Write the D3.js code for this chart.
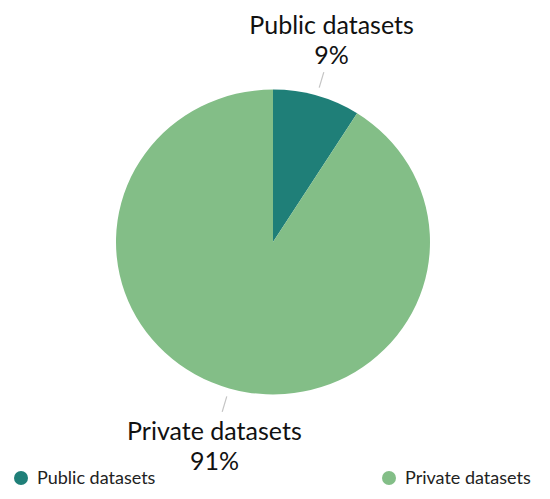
<!DOCTYPE html>
<html>
<head>
<meta charset="utf-8">
<script src="https://cdn.jsdelivr.net/npm/d3@7"></script>
<style>
  body { margin: 0; background: #fff; }
  text { font-family: Lato, "Noto Sans", sans-serif; }
</style>
</head>
<body>
<script>
var categories = ["Public datasets", "Private datasets"];
var values = [9, 91];
var colors = ["#1f7f78", "#83be87"];

var w = 550, h = 499;
var cx = 273, cy = 242;
var r = 157;
var squash = 0.971; // picture is slightly flattened vertically

var svg = d3.select("body").append("svg").attr("width", w).attr("height", h);

var data = categories.map(function(c, i) { return {name: c, value: values[i], color: colors[i]}; });

var pie = d3.pie().sort(null).value(function(d) { return d.value; });
var arcs = pie(data);
var arc = d3.arc().innerRadius(0).outerRadius(r);

var g = svg.append("g")
  .attr("transform", "translate(" + cx + "," + cy + ") scale(1," + squash + ")");

g.selectAll("path.slice")
  .data(arcs)
  .enter()
  .append("path")
  .attr("class", "slice")
  .attr("d", arc)
  .attr("fill", function(d) { return d.data.color; });

function pt(a, rad) {
  return [cx + Math.sin(a) * rad, cy - Math.cos(a) * rad * squash];
}

// leader lines + labels
arcs.forEach(function(d) {
  var mid = (d.startAngle + d.endAngle) / 2;
  var p1 = pt(mid, r * 1.055), p2 = pt(mid, r * 1.16);
  svg.append("line")
    .attr("x1", p1[0]).attr("y1", p1[1])
    .attr("x2", p2[0]).attr("y2", p2[1])
    .attr("stroke", "#c4c4c4")
    .attr("stroke-width", 1.2);

  var lp = pt(mid, 210);
  var top = Math.cos(mid) > 0;
  var y0 = top ? lp[1] - 12 : lp[1] + 2;
  var t = svg.append("text")
    .attr("text-anchor", "middle")
    .attr("font-size", 25)
    .attr("fill", "#111");
  t.append("tspan").attr("x", lp[0]).attr("y", y0).text(d.data.name);
  t.append("tspan").attr("x", lp[0]).attr("y", y0 + 30).text(d.data.value + "%");
});

// legend
var legendX = [21, 389];
var legend = svg.selectAll("g.legend")
  .data(data)
  .enter()
  .append("g")
  .attr("class", "legend")
  .attr("transform", function(d, i) { return "translate(" + legendX[i] + ",478)"; });

legend.append("circle")
  .attr("r", 7)
  .attr("fill", function(d) { return d.color; });

legend.append("text")
  .attr("x", 16)
  .attr("y", 6)
  .attr("font-size", 18)
  .attr("fill", "#222")
  .text(function(d) { return d.name; });
</script>
</body>
</html>
